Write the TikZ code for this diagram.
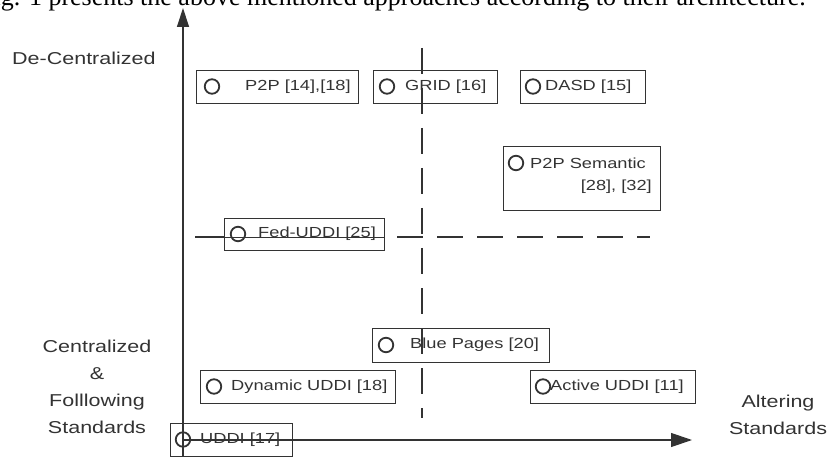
\documentclass[tikz,border=0pt]{standalone}
\usepackage{fontspec}
\setmainfont{Liberation Sans}[FakeStretch=1.25]
\newfontfamily\bodyserif{Liberation Serif}
\usetikzlibrary{arrows.meta}
\definecolor{ink}{gray}{0.2}
\tikzset{
  entrybox/.style={draw=ink, line width=1.4pt, inner sep=0pt, anchor=north west},
  marker/.style={circle, draw=ink, line width=1.8pt, minimum size=14.5pt, inner sep=0pt},
  entrytext/.style={anchor=west, inner sep=0pt, text=ink, font=\fontsize{14.6}{17}\selectfont},
  axislabel/.style={text=ink, font=\fontsize{17.2}{27}\selectfont, align=center, inner sep=0pt},
  axisline/.style={draw=ink, line width=1.2pt},
  guide/.style={draw=ink, line width=1.1pt, dash pattern=on 26pt off 14pt},
}
% one classified approach: box corners, marker x, text x, text
\newcommand{\approach}[8]{%
  \node[entrybox, minimum width=#4pt-#2pt, minimum height=#5pt-#3pt] (#1) at (#2,#3) {};
  \node[marker] (#1m) at (#6,{(#3+#5)/2}) {};
  \node[entrytext] (#1t) at (#7,{(#3+#5)/2}) {#8};
}
\begin{document}
\begin{tikzpicture}[x=1pt,y=-1pt]
\useasboundingbox (0,0) rectangle (838,457);
\clip (0,0) rectangle (838,457);

% running text of the page above the figure
\node[anchor=base east, inner sep=0pt, font=\bodyserif\fontsize{26}{28}\selectfont] (caption) at (806,6)
  {Fig. 1 presents the above mentioned approaches according to their architecture.};

% axes
\coordinate (origin) at (183,440);
\coordinate (ytip) at (183,8);
\coordinate (xtip) at (692,440);
\coordinate (ybottom) at (183,456);
\draw[axisline, -{Triangle[length=19pt,width=12pt]}] (ybottom) -- (ytip);
\draw[axisline, -{Triangle[length=21pt,width=14pt]}] (origin) -- (xtip);

% quadrant guides
\coordinate (vtop) at (422,48);
\coordinate (vbot) at (422,418);
\coordinate (hleft) at (195,237);
\coordinate (hmid) at (397,237);
\coordinate (hright) at (650,237);
\draw[guide] (vtop) -- (vbot);
\draw[draw=ink, line width=1.1pt] (hleft) -- (224,237);
\draw[draw=ink, line width=0.6pt] (224,237) -- (384,237);
\draw[guide] (hmid) -- (hright);

% approaches
\approach{ptp}{196}{70}{358}{103}{212}{245}{P2P [14],[18]}
\approach{grid}{373}{70}{497}{103}{387}{405}{GRID [16]}
\approach{dasd}{520}{70}{645}{103}{533}{545}{DASD [15]}
\node[entrybox, minimum width=157pt, minimum height=64pt] (sem) at (503,146) {};
\node[marker] (semm) at (516,163) {};
\node[entrytext] (semt) at (530,163) {P2P Semantic};
\node[entrytext, anchor=east] (semr) at (652,187) {[28], [32]};
\approach{fed}{224}{218}{384}{250}{238}{258}{Fed-UDDI [25]}
\approach{blue}{372}{328}{549}{362}{386}{410}{Blue Pages [20]}
\approach{dyn}{200}{370}{395}{403}{214}{231}{Dynamic UDDI [18]}
\approach{act}{530}{370}{695}{403}{543}{550}{Active UDDI [11]}
\approach{uddi}{170}{423}{292}{456}{183}{200}{UDDI [17]}

% axis labels
\node[axislabel, anchor=west] (dec) at (12,58) {De-Centralized};
\node[axislabel, anchor=north] (cen) at (97,340) {Centralized\\\&\\Folllowing\\Standards};
\node[axislabel, anchor=north] (alt) at (778,395) {Altering\\Standards};
\end{tikzpicture}
\end{document}
